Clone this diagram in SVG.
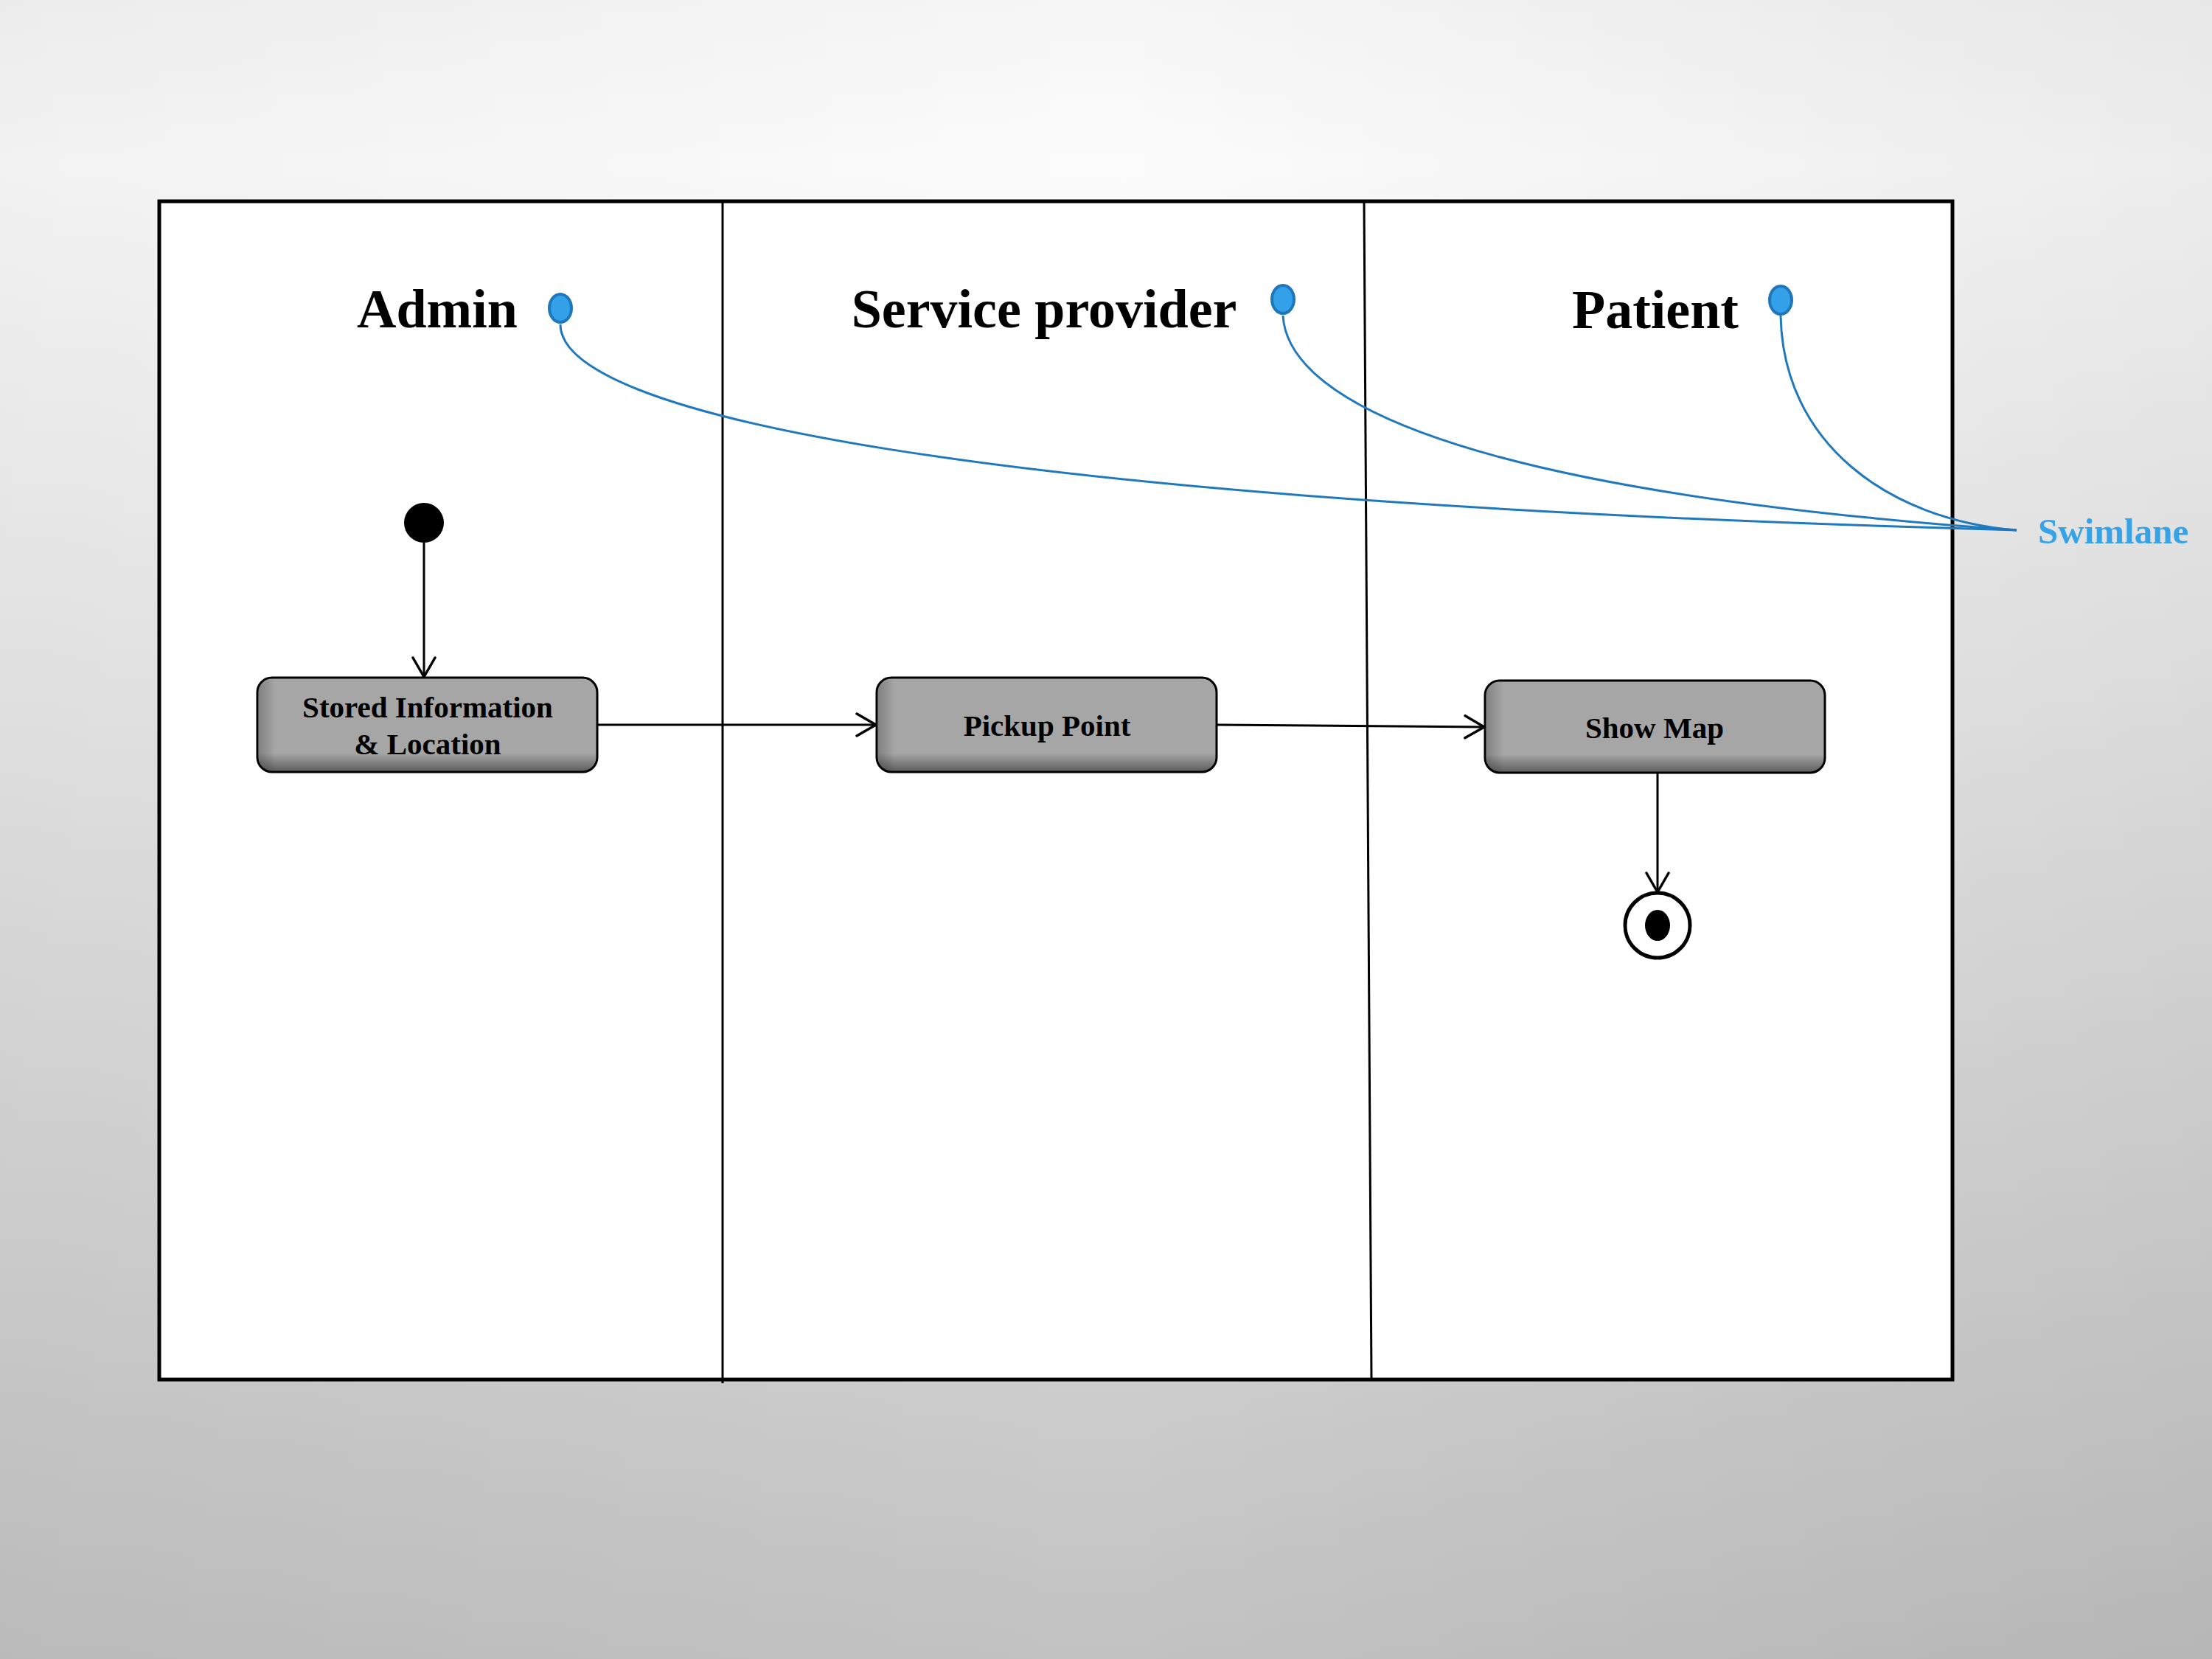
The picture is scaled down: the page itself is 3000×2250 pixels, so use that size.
<svg xmlns="http://www.w3.org/2000/svg" width="3000" height="2250" viewBox="0 0 3000 2250">
<defs>
<linearGradient id="bgV" x1="0" y1="0" x2="0" y2="1">
<stop offset="0" stop-color="#F6F6F6"/>
<stop offset="0.1" stop-color="#FCFCFC"/>
<stop offset="0.4" stop-color="#EAEAEA"/>
<stop offset="0.8" stop-color="#CFCFCF"/>
<stop offset="1" stop-color="#C2C2C2"/>
</linearGradient>
<linearGradient id="bgH" x1="0" y1="0" x2="1" y2="0">
<stop offset="0" stop-color="#000" stop-opacity="0.04"/>
<stop offset="0.5" stop-color="#000" stop-opacity="0"/>
<stop offset="1" stop-color="#000" stop-opacity="0.06"/>
</linearGradient>
<linearGradient id="boxV" x1="0" y1="0" x2="0" y2="1">
<stop offset="0" stop-color="#A6A6A6"/>
<stop offset="0.8" stop-color="#A6A6A6"/>
<stop offset="1" stop-color="#5C5C5C"/>
</linearGradient>
<linearGradient id="boxH" x1="0" y1="0" x2="1" y2="0">
<stop offset="0" stop-color="#000" stop-opacity="0.22"/>
<stop offset="0.05" stop-color="#000" stop-opacity="0"/>
<stop offset="1" stop-color="#000" stop-opacity="0"/>
</linearGradient>
<marker id="arr" viewBox="0 0 30 34" refX="28" refY="17" markerWidth="30" markerHeight="34" markerUnits="userSpaceOnUse" orient="auto">
<path d="M2,2 L28,17 L2,32" fill="none" stroke="#000" stroke-width="3.5" stroke-linecap="round" stroke-linejoin="round"/>
</marker>
</defs>
<style>
.title{font-family:"Liberation Serif","Times New Roman",serif;font-weight:bold;font-size:74px;fill:#000;text-anchor:middle}
.lbl{font-family:"Liberation Serif","Times New Roman",serif;font-weight:bold;font-size:41px;fill:#000;text-anchor:middle}
.box{stroke:#000;stroke-width:3}
.shade{fill:url(#boxH);stroke:none}
.flow{fill:none;stroke:#000;stroke-width:3}
.note{fill:none;stroke:#2179BD;stroke-width:3}
.dot{fill:#33A1EA;stroke:#1F76B8;stroke-width:4}
</style>
<rect x="0" y="0" width="3000" height="2250" fill="url(#bgV)"/>
<rect x="0" y="0" width="3000" height="2250" fill="url(#bgH)"/>

<g id="swimlanes">
<rect x="216" y="273" width="2432" height="1598" fill="#FFFFFF" stroke="#000" stroke-width="5"/>
<line x1="980" y1="273" x2="980" y2="1876" stroke="#000" stroke-width="3"/>
<line x1="1850" y1="273" x2="1860" y2="1871" stroke="#000" stroke-width="3"/>
<text class="title" x="593" y="444">Admin</text>
<text class="title" x="1416" y="444">Service provider</text>
<text class="title" x="2245" y="445">Patient</text>
</g>

<g id="connectors">
<line class="flow" x1="575" y1="736" x2="575" y2="918" marker-end="url(#arr)"/>
<line class="flow" x1="810" y1="983" x2="1188" y2="983" marker-end="url(#arr)"/>
<line class="flow" x1="1650" y1="983" x2="2013" y2="986" marker-end="url(#arr)"/>
<line class="flow" x1="2248" y1="1048" x2="2248" y2="1210" marker-end="url(#arr)"/>
</g>

<g id="start">
<circle cx="575" cy="709" r="27" fill="#000"/>
</g>

<g id="stored-information">
<rect class="box" x="349" y="919" width="461" height="128" rx="20" fill="url(#boxV)"/>
<rect class="shade" x="351" y="921" width="457" height="124" rx="18"/>
<text class="lbl" x="580" y="973">Stored Information</text>
<text class="lbl" x="580" y="1023">&amp; Location</text>
</g>

<g id="pickup-point">
<rect class="box" x="1189" y="919" width="461" height="128" rx="20" fill="url(#boxV)"/>
<rect class="shade" x="1191" y="921" width="457" height="124" rx="18"/>
<text class="lbl" x="1420" y="998">Pickup Point</text>
</g>

<g id="show-map">
<rect class="box" x="2014" y="923" width="461" height="125" rx="20" fill="url(#boxV)"/>
<rect class="shade" x="2016" y="925" width="457" height="121" rx="18"/>
<text class="lbl" x="2244" y="1001">Show Map</text>
</g>

<g id="end">
<circle cx="2248" cy="1255" r="44" fill="#FFFFFF" stroke="#000" stroke-width="5"/>
<ellipse cx="2248" cy="1255" rx="17" ry="21" fill="#000"/>
</g>

<g id="swimlane-note">
<path class="note" d="M760,440 C760,560 1300,680 2735,719"/>
<path class="note" d="M1740,428 C1745,520 1900,660 2735,719"/>
<path class="note" d="M2415,428 C2418,600 2560,705 2735,719"/>
<ellipse class="dot" cx="760" cy="418" rx="15" ry="19"/>
<ellipse class="dot" cx="1740" cy="406" rx="15" ry="19"/>
<ellipse class="dot" cx="2415" cy="407" rx="15" ry="19"/>
<text x="2764" y="737" font-family="Liberation Serif, Times New Roman, serif" font-weight="bold" font-size="49" fill="#36A2E8">Swimlane</text>
</g>
</svg>
